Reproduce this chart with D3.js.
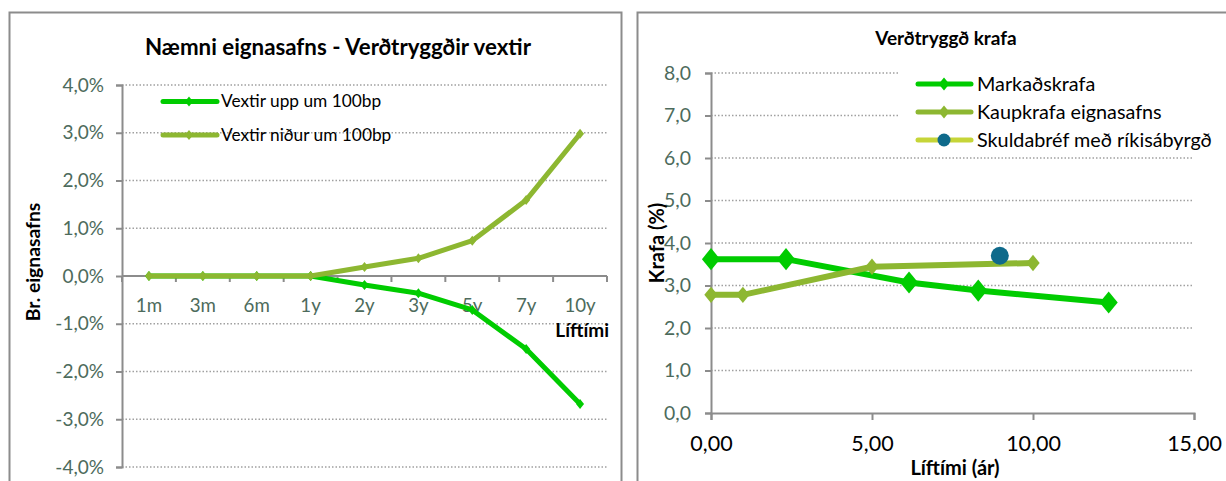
<!DOCTYPE html>
<html><head><meta charset="utf-8">
<script src="https://cdn.jsdelivr.net/npm/d3@7"></script>
<style>body{margin:0;background:#fff}svg{display:block}text{font-family:Lato,"Open Sans",sans-serif}</style>
</head><body>
<svg id="c" width="1226" height="481"></svg>
<script>
// ---- Left chart data ----
const leftCategories = ["1m","3m","6m","1y","2y","3y","5y","7y","10y"];
const leftUp = [0,0,0,0,-0.19,-0.36,-0.71,-1.53,-2.68];
const leftDown = [0,0,0,0,0.19,0.37,0.74,1.59,2.98];
const leftYTicks = [-4,-3,-2,-1,0,1,2,3,4];
const leftSeriesNames = ["Vextir upp um 100bp","Vextir niður um 100bp"];

// ---- Right chart data ----
const marketX = [0,2.33,6.15,8.3,12.35];
const marketY = [3.62,3.62,3.07,2.88,2.6];
const portX = [0,0.99,5.0,10.0];
const portY = [2.78,2.78,3.44,3.53];
const govX = [8.97];
const govY = [3.7];
const rightXTicks = [0,5,10,15];
const rightYTicks = [0,1,2,3,4,5,6,7,8];
const rightSeriesNames = ["Markaðskrafa","Kaupkrafa eignasafns","Skuldabréf með ríkisábyrgð"];

const GREEN = "#00cc00", OLIVE = "#8db731", YELLOW = "#c6d538", TEAL = "#0f6a8b";
const AXIS = "#8c8c8c", GRID = "#a0a0a0", TICKTXT = "#4d6b5c";
const loc = d3.formatLocale({decimal:",",thousands:".",grouping:[3],currency:["",""],minus:"-"});
const f1 = loc.format(".1f"), f2 = loc.format(".2f");

// custom diamond with width/height ratio
const diamond = ratio => ({draw(ctx,size){
  const h = Math.sqrt(size/ (2*ratio));
  const w = h*ratio;
  ctx.moveTo(0,-h); ctx.lineTo(w,0); ctx.lineTo(0,h); ctx.lineTo(-w,0); ctx.closePath();
}});

const svg = d3.select("#c");

svg.append("rect").attr("x",9.5).attr("y",12.5).attr("width",612).attr("height",480).attr("fill","#fff").attr("stroke",AXIS).attr("stroke-width",2);
svg.append("rect").attr("x",637.5).attr("y",12.5).attr("width",600).attr("height",480).attr("fill","#fff").attr("stroke",AXIS).attr("stroke-width",2);

// ================= LEFT =================
const L = svg.append("g");
const lx = d3.scaleBand().domain(leftCategories).range([122,607]);
const ly = d3.scaleLinear().domain([-4,4]).range([467,85]);
const lcx = c => lx(c) + lx.bandwidth()/2;

L.append("g").selectAll("line").data(leftYTicks.filter(d=>d!==0)).join("line")
  .attr("x1",122).attr("x2",608).attr("y1",d=>ly(d)).attr("y2",d=>ly(d))
  .attr("stroke",GRID).attr("stroke-width",1.3).attr("stroke-dasharray","1.5,2");

const lyAxis = L.append("g").attr("transform","translate(122,0)")
  .call(d3.axisLeft(ly).tickValues(leftYTicks).tickSize(6).tickFormat(d=>f1(d)+"%"));
lyAxis.select(".domain").attr("stroke",AXIS).attr("stroke-width",2);
lyAxis.selectAll(".tick line").attr("stroke",AXIS).attr("stroke-width",2);
lyAxis.selectAll(".tick text").attr("fill",TICKTXT).style("font-size","19px").style("font-family","Lato").attr("x",-18);

const lxAxisG = L.append("g").attr("transform",`translate(0,${ly(0)})`);
lxAxisG.append("line").attr("x1",122).attr("x2",607).attr("stroke",AXIS).attr("stroke-width",2);
const bounds = leftCategories.map(c=>lx(c)).concat([lx.range()[1]]);
lxAxisG.selectAll("line.tk").data(bounds).join("line").attr("class","tk")
  .attr("x1",d=>d).attr("x2",d=>d).attr("y1",0).attr("y2",6).attr("stroke",AXIS).attr("stroke-width",2);
lxAxisG.selectAll("text").data(leftCategories).join("text")
  .attr("x",d=>lcx(d)).attr("y",36).attr("text-anchor","middle").attr("fill",TICKTXT)
  .style("font-size","18.7px").text(d=>d);

const lline = d3.line().x(d=>lcx(d[0])).y(d=>ly(d[1]));
function leftSeries(vals,color){
  const pts = leftCategories.map((c,i)=>[c,vals[i]]);
  L.append("path").datum(pts).attr("d",lline).attr("fill","none").attr("stroke",color)
    .attr("stroke-width",5).attr("stroke-linejoin","round");
  L.append("g").selectAll("path").data(pts).join("path")
    .attr("d",d3.symbol(diamond(0.8),40)).attr("transform",d=>`translate(${lcx(d[0])},${ly(d[1])})`)
    .attr("fill",color);
}
leftSeries(leftUp,GREEN);
leftSeries(leftDown,OLIVE);

L.append("text").attr("x",338).attr("y",55).attr("text-anchor","middle").style("font-size","22.3px").attr("font-weight","bold").text("Næmni eignasafns - Verðtryggðir vextir");
L.append("text").attr("transform","translate(40,262) rotate(-90)").attr("text-anchor","middle").style("font-size","19.3px").attr("font-weight","bold").text("Br. eignasafns");
L.append("text").attr("x",609).attr("y",337).attr("text-anchor","end").style("font-size","19px").attr("font-weight","bold").text("Líftími");

const lleg = L.append("g");
[GREEN,OLIVE].forEach((col,i)=>{
  const y = 101.5 + i*33.5;
  lleg.append("line").attr("x1",163).attr("x2",217).attr("y1",y).attr("y2",y).attr("stroke",col).attr("stroke-width",5).attr("stroke-linecap","round");
  lleg.append("path").attr("d",d3.symbol(diamond(0.8),40)).attr("transform",`translate(189,${y})`).attr("fill",col);
  lleg.append("text").attr("x",221).attr("y",y+5.5).style("font-size","17.3px").text(leftSeriesNames[i]);
});

// ================= RIGHT =================
const R = svg.append("g");
const rx = d3.scaleLinear().domain([0,15]).range([711,1194]);
const ry = d3.scaleLinear().domain([0,8]).range([413,73]);

R.append("g").selectAll("line").data(rightYTicks.filter(d=>d!==0)).join("line")
  .attr("x1",711).attr("x2",1194).attr("y1",d=>ry(d)).attr("y2",d=>ry(d))
  .attr("stroke",GRID).attr("stroke-width",1.3).attr("stroke-dasharray","1.5,2");

const ryAxis = R.append("g").attr("transform","translate(711,0)")
  .call(d3.axisLeft(ry).tickValues(rightYTicks).tickSize(6).tickFormat(d=>f1(d)));
ryAxis.select(".domain").attr("stroke",AXIS).attr("stroke-width",2);
ryAxis.selectAll(".tick line").attr("stroke",AXIS).attr("stroke-width",2);
ryAxis.selectAll(".tick text").attr("fill",TICKTXT).style("font-size","19.4px").style("font-family","Lato").attr("x",-20);

const rxAxis = R.append("g").attr("transform",`translate(0,${ry(0)})`)
  .call(d3.axisBottom(rx).tickValues(rightXTicks).tickSize(7).tickFormat(d=>f2(d)));
rxAxis.select(".domain").attr("stroke",AXIS).attr("stroke-width",2);
rxAxis.selectAll(".tick line").attr("stroke",AXIS).attr("stroke-width",2);
rxAxis.selectAll(".tick text").attr("fill","#000").style("font-size","21.5px").style("font-family","Lato").attr("y",23);

const rline = d3.line().x(d=>rx(d[0])).y(d=>ry(d[1]));
function rightSeries(xs,ys,color,size){
  const pts = xs.map((x,i)=>[x,ys[i]]);
  R.append("path").datum(pts).attr("d",rline).attr("fill","none").attr("stroke",color)
    .attr("stroke-width",6).attr("stroke-linejoin","round");
  R.append("g").selectAll("path").data(pts).join("path")
    .attr("d",d3.symbol(diamond(0.82),size)).attr("transform",d=>`translate(${rx(d[0])},${ry(d[1])})`)
    .attr("fill",color);
}
rightSeries(marketX,marketY,GREEN,200);
rightSeries(portX,portY,OLIVE,110);
R.append("g").selectAll("circle").data(govX.map((x,i)=>[x,govY[i]])).join("circle")
  .attr("cx",d=>rx(d[0])).attr("cy",d=>ry(d[1])).attr("r",9).attr("fill",TEAL);

R.append("rect").attr("x",899).attr("y",64).attr("width",320).attr("height",88).attr("fill","#fff");
const rcols = [GREEN,OLIVE,YELLOW];
rcols.forEach((col,i)=>{
  const y = 84 + i*28;
  R.append("line").attr("x1",918).attr("x2",971).attr("y1",y).attr("y2",y).attr("stroke",col).attr("stroke-width",5).attr("stroke-linecap","round");
  if(i<2) R.append("path").attr("d",d3.symbol(diamond(0.82),70)).attr("transform",`translate(944,${y})`).attr("fill",col);
  else R.append("circle").attr("cx",944).attr("cy",y).attr("r",6.5).attr("fill",TEAL);
  R.append("text").attr("x",977).attr("y",y+6.5).style("font-size","19.8px").text(rightSeriesNames[i]);
});

R.append("text").attr("x",946).attr("y",45).attr("text-anchor","middle").style("font-size","19px").attr("font-weight","bold").text("Verðtryggð krafa");
R.append("text").attr("transform","translate(664,243) rotate(-90)").attr("text-anchor","middle").style("font-size","20px").attr("font-weight","bold").text("Krafa (%)");
R.append("text").attr("x",955).attr("y",475).attr("text-anchor","middle").style("font-size","20px").attr("font-weight","bold").text("Líftími (ár)");
</script>
</body></html>
